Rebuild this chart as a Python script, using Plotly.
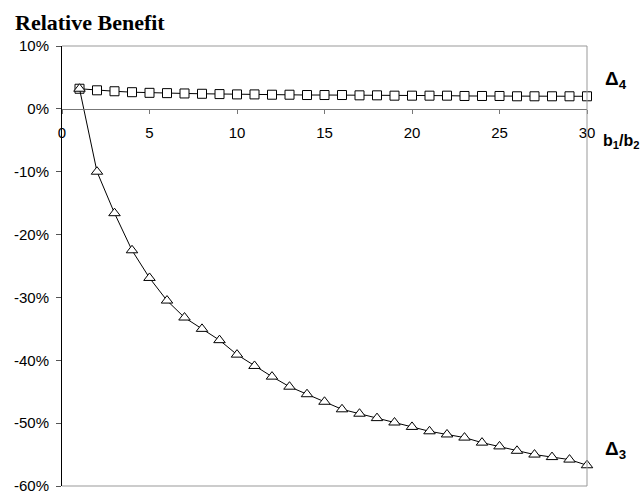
import plotly.graph_objects as go

x_vals = list(range(1, 31))
delta4 = [0.032, 0.0295, 0.028, 0.0265, 0.0255, 0.025, 0.0245, 0.024, 0.0235, 0.023,
          0.023, 0.0225, 0.0225, 0.022, 0.022, 0.022, 0.0215, 0.0215, 0.021, 0.021,
          0.021, 0.021, 0.0205, 0.0205, 0.0205, 0.020, 0.020, 0.020, 0.020, 0.020]
delta3 = [0.032, -0.100, -0.166, -0.225, -0.269, -0.305, -0.332, -0.350, -0.368, -0.391,
          -0.409, -0.426, -0.442, -0.454, -0.466, -0.478, -0.485, -0.492, -0.499, -0.506,
          -0.513, -0.518, -0.523, -0.531, -0.537, -0.544, -0.550, -0.554, -0.558, -0.567]
y_tickvals = [0.1, 0.0, -0.1, -0.2, -0.3, -0.4, -0.5, -0.6]
y_ticktext = ["10%", "0%", "-10%", "-20%", "-30%", "-40%", "-50%", "-60%"]
x_tickvals = [0, 5, 10, 15, 20, 25, 30]

fig = go.Figure()
fig.add_trace(go.Scatter(
    x=x_vals, y=delta4, mode="lines+markers", cliponaxis=False,
    line=dict(color="black", width=1),
    marker=dict(symbol="square", size=9, color="white", line=dict(color="black", width=1)),
    showlegend=False))
fig.add_trace(go.Scatter(
    x=x_vals, y=delta3, mode="lines+markers", cliponaxis=False,
    line=dict(color="black", width=1),
    marker=dict(symbol="triangle-up", size=10, color="white", line=dict(color="black", width=1)),
    showlegend=False))

tick_font = dict(family="Liberation Sans, Arial", size=15, color="black")

fig.update_layout(
    width=644, height=493,
    margin=dict(l=62, r=57, t=46, b=7, autoexpand=False),
    paper_bgcolor="white", plot_bgcolor="white",
    xaxis=dict(range=[0, 30], tickvals=x_tickvals, showgrid=False, zeroline=False,
               showline=True, linecolor="#777", linewidth=1,
               ticks="outside", ticklen=4, tickcolor="#777", automargin=False,
               anchor="free", position=6/7, tickfont=tick_font, ticklabelstandoff=6),
    yaxis=dict(range=[-0.6, 0.1], tickvals=y_tickvals, ticktext=y_ticktext,
               showgrid=False, zeroline=False, showline=True, linecolor="black", linewidth=1,
               ticks="outside", ticklen=5, tickcolor="#555", tickfont=tick_font,
               ticklabelstandoff=4, ticklabeloverflow="allow", automargin=False),
)

# plot border (top, right, bottom)
for x0, y0, x1, y1 in [(0, 1, 1, 1), (1, 0, 1, 1), (0, 0, 1, 0)]:
    fig.add_shape(type="line", xref="paper", yref="paper", x0=x0, y0=y0, x1=x1, y1=y1,
                  line=dict(color="#999", width=1))

fig.add_annotation(text="<b>Relative Benefit</b>", xref="paper", yref="paper",
                   x=-0.0933, y=1.0545, xanchor="left", yanchor="middle", showarrow=False,
                   font=dict(family="Liberation Serif, Times New Roman", size=22, color="black"))
fig.add_annotation(text="<b>Δ<sub>4</sub></b>", xref="paper", yref="paper",
                   x=1.0305, y=0.9227, xanchor="left", yanchor="middle", showarrow=False,
                   font=dict(family="Liberation Sans, Arial", size=19, color="black"))
fig.add_annotation(text="<b>b<sub>1</sub>/b<sub>2</sub></b>", xref="paper", yref="paper",
                   x=1.0267, y=0.784, xanchor="left", yanchor="middle", showarrow=False,
                   font=dict(family="Liberation Sans, Arial", size=16, color="black"))
fig.add_annotation(text="<b>Δ<sub>3</sub></b>", xref="paper", yref="paper",
                   x=1.0305, y=0.0818, xanchor="left", yanchor="middle", showarrow=False,
                   font=dict(family="Liberation Sans, Arial", size=19, color="black"))

fig.write_html("out.html", config={"displayModeBar": False},
               post_script="document.body.style.margin='0px';document.body.style.overflow='hidden';")
